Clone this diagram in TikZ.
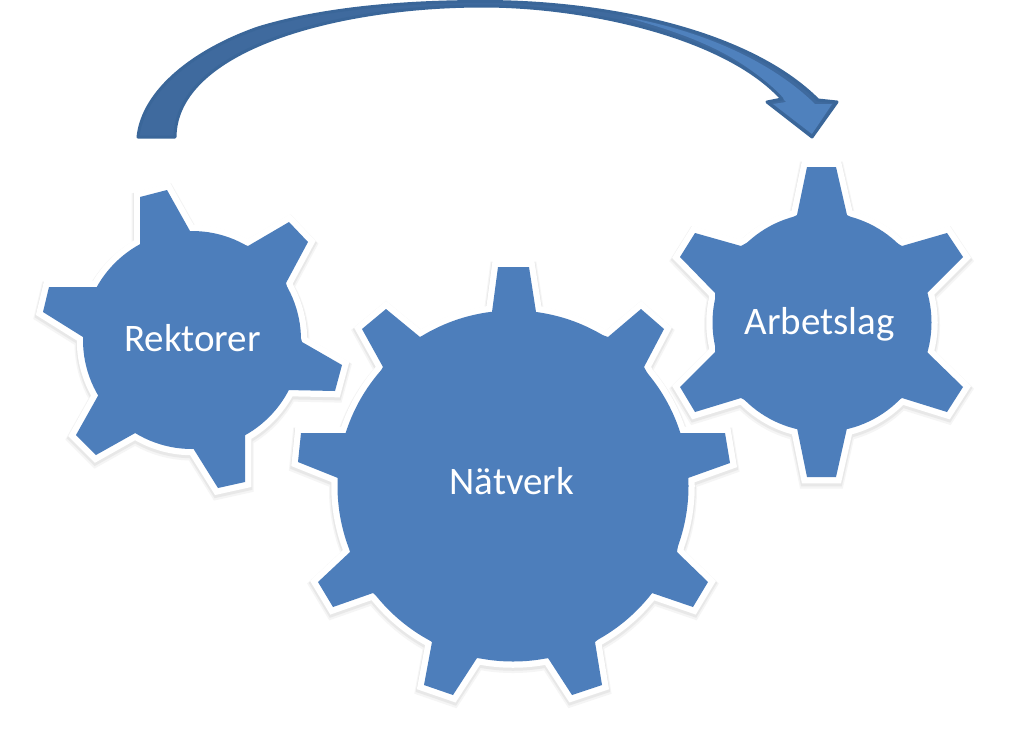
\documentclass[tikz,border=0pt]{standalone}
\usepackage{fontspec}
\setmainfont{Carlito}
\definecolor{gearblue}{HTML}{4D7EBB}
\definecolor{arrowdark}{HTML}{3F6A9E}
\definecolor{arrowedge}{HTML}{3A6699}
\definecolor{arrowlight}{HTML}{4F81BD}
\tikzset{
  gearshadow/.style={draw=black!9,line width=14.5pt,miter limit=6,line join=miter,shift={(0,2)}},
  gearshadowsoft/.style={draw=black!4,line width=17pt,miter limit=6,line join=miter,shift={(0,3)}},
  gearrim/.style={draw=white,line width=12.5pt,miter limit=6,line join=miter},
  gearbody/.style={fill=gearblue},
  gearlabel/.style={text=white,anchor=base,inner sep=0pt,font=\fontsize{39}{39}\selectfont}
}
% #1 node name, #2 tooth polygon, #3 hub centre, #4 hub radius, #5 label position, #6 label
\newcommand{\cogwheel}[6]{
  \draw[gearshadowsoft] #2 -- cycle #3 circle[radius=#4pt];
  \draw[gearshadow] #2 -- cycle #3 circle[radius=#4pt];
  \draw[gearrim] #2 -- cycle #3 circle[radius=#4pt];
  \fill[gearbody] #2 -- cycle;
  \fill[gearbody] #3 circle[radius=#4pt];
  \node[gearlabel] (#1) at #5 {#6};
}
\newcommand{\arrowoutline}{(138,137) .. controls (143,90) and (195,50) .. (258,28) .. controls (320,9) and (400,1.5) .. (483,1.5) .. controls (610,1.5) and (750,32) .. (818,100) -- (837,102) -- (812,137) -- (767,102) -- (782,99) .. controls (725,36) and (585,6) .. (483,6) .. controls (335,6) and (176,50) .. (175,137) -- cycle}
\begin{document}
\begin{tikzpicture}[x=1pt,y=-1pt]
\useasboundingbox[fill=white] (0,0) rectangle (1024,750);
% centre gear
\cogwheel{natverk}{(492,312) -- (498,267) -- (529,267) -- (536,312) -- (608,337) -- (641,309) -- (664,329) -- (644,367) -- (680,433) -- (725,433) -- (730,463) -- (688,478) -- (677,552) -- (708,582) -- (693,607) -- (652,593) -- (595,642) -- (602,685) -- (572,695) -- (548,658) -- (477,658) -- (453,695) -- (424,685) -- (432,642) -- (373,593) -- (333,607) -- (318,582) -- (350,552) -- (338,478) -- (298,462) -- (301,433) -- (348,433) -- (383,367) -- (362,329) -- (386,309) -- (420,337)}{(513,486)}{175.5}{(512,494)}{Nätverk}
% left gear
\cogwheel{rektorer}{(140,245) -- (140,197) -- (167,190) -- (190,231) -- (248,246) -- (289,222) -- (308,242) -- (286,283) -- (302,342) -- (342,365) -- (335,391) -- (287,390) -- (245,433) -- (245,482) -- (218,488) -- (193,448) -- (137,432) -- (96,455) -- (76,435) -- (99,394) -- (83,337) -- (43,312) -- (49,287) -- (99,287)}{(192,340)}{109}{(192.5,351)}{Rektorer}
% right gear
\cogwheel{arbetslag}{(797,215) -- (807,167) -- (836,167) -- (847,215) -- (902,246) -- (947,233) -- (963,257) -- (927,293) -- (927,352) -- (963,387) -- (947,412) -- (902,398) -- (847,428) -- (836,477) -- (807,477) -- (797,428) -- (741,398) -- (695,412) -- (680,387) -- (715,352) -- (715,293) -- (680,257) -- (695,233) -- (741,246)}{(822,322.5)}{109.5}{(819.5,334)}{Arbetslag}
% curved arrow
\fill[arrowdark] \arrowoutline;
\fill[arrowlight] (625,17) .. controls (700,30) and (770,60) .. (815,104) -- (832,104) -- (812,134) -- (773,104) -- (786,102) .. controls (745,55) and (690,35) .. (625,17) -- cycle;
\draw[arrowedge,line width=3pt,line join=round] \arrowoutline;
\end{tikzpicture}
\end{document}
